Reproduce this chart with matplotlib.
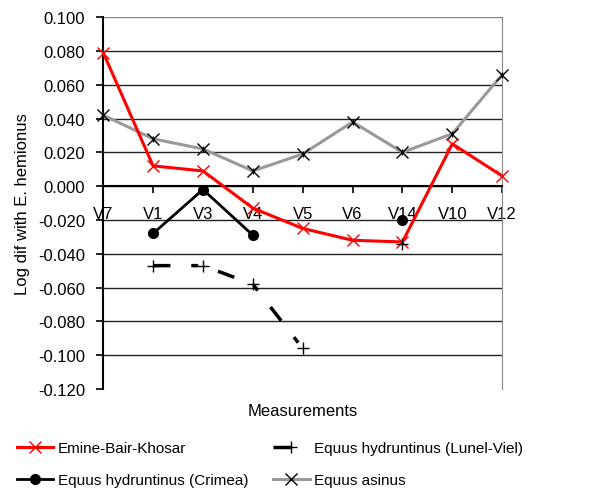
import numpy as np
import matplotlib.pyplot as plt

plt.rcParams['font.family'] = ['Liberation Sans', 'DejaVu Sans']

medidas = ["V7", "V1", "V3", "V4", "V5", "V6", "V14", "V10", "V12"]
emine = [0.079, 0.012, 0.009, -0.013, -0.025, -0.032, -0.033, 0.025, 0.006]
lunel = [np.nan, -0.047, -0.047, -0.058, -0.096, np.nan, -0.034, np.nan, np.nan]
crimea = [np.nan, -0.028, -0.002, -0.029, np.nan, np.nan, -0.020, np.nan, np.nan]
asinus = [0.042, 0.028, 0.022, 0.009, 0.019, 0.038, 0.020, 0.031, 0.066]
yticks = np.arange(-0.12, 0.1001, 0.02)

fig = plt.figure(figsize=(6, 5.02), dpi=100)
ax = fig.add_axes([0.172, 0.223, 0.665, 0.741])
x = np.arange(len(medidas))

# grade horizontal
for yv in yticks[1:]:
    ax.axhline(yv, color='#222222' if yv < 0.099 else '#888888', lw=1, zorder=0)

ax.plot(x, asinus, color='#999999', lw=2.2, marker='x', mec='black', ms=9, mew=1,
        label='Equus asinus', zorder=3, clip_on=False)
# traço vertical do marcador "estrela" do Excel
ax.plot(x, asinus, ls='none', marker='|', mec='black', ms=5, mew=1, zorder=3, clip_on=False)
ax.plot(x, emine, color='red', lw=2.2, marker='x', ms=9, mew=1,
        label='Emine-Bair-Khosar', zorder=4, clip_on=False)
ax.plot(x, crimea, color='black', lw=2, marker='o', ms=7,
        label='Equus hydruntinus (Crimea)', zorder=5)
ax.plot(x, lunel, color='black', lw=2.5, dashes=(5, 6, 2, 6), marker='+', ms=9, mew=1,
        label='Equus hydruntinus (Lunel-Viel)', zorder=5)

ax.set_xlim(0, len(medidas) - 1)
ax.set_ylim(-0.12, 0.10)
ax.set_yticks(yticks)
ax.set_yticklabels([f"{v:.3f}" for v in yticks])
ax.set_xticks(x)
ax.set_xticklabels(medidas)

ax.spines['bottom'].set_position(('data', 0))
ax.spines['bottom'].set_linewidth(1.5)
ax.spines['left'].set_linewidth(1.5)
ax.spines['top'].set_visible(False)
ax.spines['right'].set_color('#888888')
ax.tick_params(axis='both', labelsize=12, direction='out', length=5, width=1.2)
ax.tick_params(axis='x', pad=9)
ax.tick_params(axis='y', pad=8)

ax.set_ylabel("Log dif with E. hemionus", fontsize=12, labelpad=6)
fig.text(0.505, 0.18, "Measurements", ha='center', va='center', fontsize=12)

h, l = ax.get_legend_handles_labels()
ordem = [1, 2, 3, 0]
fig.legend([h[i] for i in ordem], [l[i] for i in ordem], ncol=2, loc='lower left',
           bbox_to_anchor=(0.005, 0.0), frameon=False, fontsize=11,
           handlelength=2.4, handletextpad=0.3, columnspacing=1.6, labelspacing=1.2)

plt.savefig("out.png", dpi=100)
plt.close()
